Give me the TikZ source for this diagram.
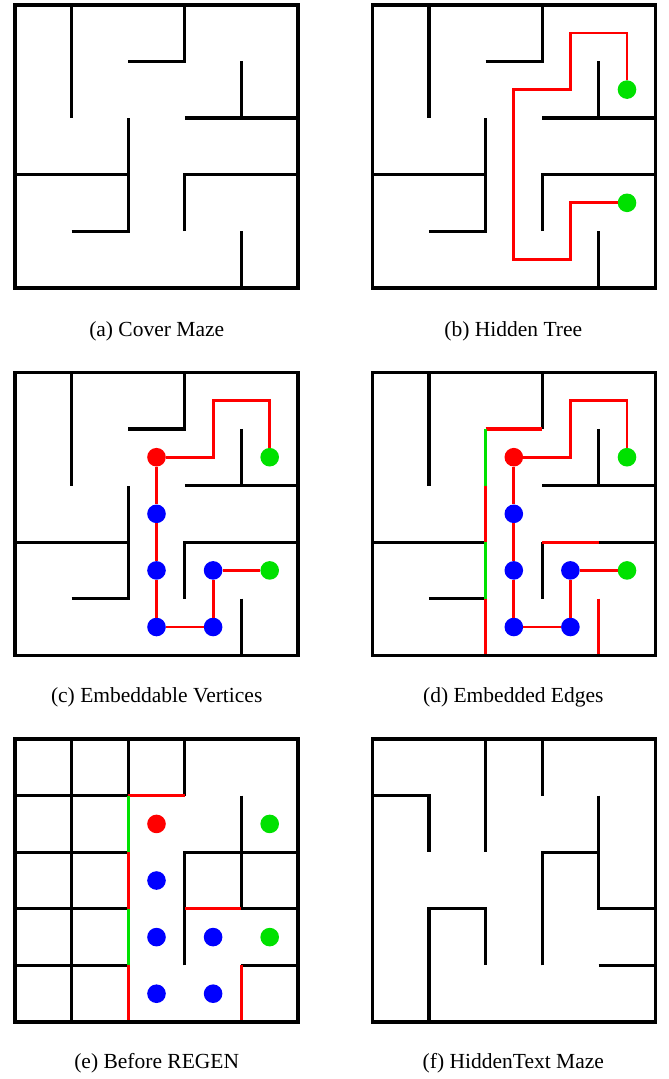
\documentclass[tikz,border=0pt]{standalone}
\usepackage{fontspec}
\setmainfont{Liberation Serif}
\definecolor{wred}{RGB}{255,0,0}
\definecolor{wgreen}{RGB}{0,225,0}
\definecolor{wblue}{RGB}{0,0,255}
\tikzset{
  wall/.style={line width=3.2pt, black},
  border/.style={line width=3.6pt, black},
  rwall/.style={line width=3.2pt, wred},
  gwall/.style={line width=3.2pt, wgreen},
  tpath/.style={line width=2.8pt, wred},
  dot/.style={circle, inner sep=0pt, minimum size=18.6pt},
  rdot/.style={dot, fill=wred},
  gdot/.style={dot, fill=wgreen},
  bdot/.style={dot, fill=wblue},
  captext/.style={font=\fontsize{21.5}{26}\selectfont, anchor=base, inner sep=0pt},
  panel/.style={x=56.6pt, y=-56.6pt}
}
\newcommand{\mazeAwalls}{%
  \draw[wall] (1,0)--(1,2);
  \draw[wall] (2,1)--(3,1)--(3,0);
  \draw[wall] (4,1)--(4,2);
  \draw[wall] (3,2)--(5,2);
  \draw[wall] (0,3)--(2,3);
  \draw[wall] (1,4)--(2,4)--(2,2);
  \draw[wall] (3,4)--(3,3)--(5,3);
  \draw[wall] (4,4)--(4,5);
  \draw[border] (0,0) rectangle (5,5);
}
\newcommand{\treedots}[1]{%
  \node[rdot] (#1r) at (2.5,1.5) {};
  \node[bdot] (#1b1) at (2.5,2.5) {};
  \node[bdot] (#1b2) at (2.5,3.5) {};
  \node[bdot] (#1b3) at (2.5,4.5) {};
  \node[bdot] (#1b4) at (3.5,4.5) {};
  \node[bdot] (#1b5) at (3.5,3.5) {};
  \node[gdot] (#1g1) at (4.5,1.5) {};
  \node[gdot] (#1g2) at (4.5,3.5) {};
}
\newcommand{\treeedges}[1]{%
  \draw[tpath] (#1r) -- (3.5,1.5) -- (3.5,0.5) -- (4.5,0.5) -- (#1g1);
  \draw[tpath] (#1r) -- (#1b1);
  \draw[tpath] (#1b1) -- (#1b2);
  \draw[tpath] (#1b2) -- (#1b3);
  \draw[tpath] (#1b3) -- (#1b4);
  \draw[tpath] (#1b4) -- (#1b5);
  \draw[tpath] (#1b5) -- (#1g2);
}
\begin{document}
\begin{tikzpicture}
\useasboundingbox (0pt,0pt) rectangle (669pt,-1079pt);

% (a) Cover Maze
\begin{scope}[shift={(15pt,-4.7pt)}, panel]
  \mazeAwalls
\end{scope}
\node[captext] (capA) at (156.7pt,-336.5pt) {(a) Cover Maze};

% (b) Hidden Tree
\begin{scope}[shift={(372.3pt,-4.7pt)}, panel]
  \mazeAwalls
  \node[gdot] (bg1) at (4.5,1.5) {};
  \node[gdot] (bg2) at (4.5,3.5) {};
  \draw[tpath] (bg1) -- (4.5,0.5) -- (3.5,0.5) -- (3.5,1.5) -- (2.5,1.5)
     -- (2.5,4.5) -- (3.5,4.5) -- (3.5,3.5) -- (bg2);
\end{scope}
\node[captext] (capB) at (513.3pt,-336.5pt) {(b) Hidden Tree};

% (c) Embeddable Vertices
\begin{scope}[shift={(15pt,-372.3pt)}, panel]
  \mazeAwalls
  \treedots{c}
  \treeedges{c}
\end{scope}
\node[captext] (capC) at (156.7pt,-702.5pt) {(c) Embeddable Vertices};

% (d) Embedded Edges
\begin{scope}[shift={(372.3pt,-372.3pt)}, panel]
  \draw[wall] (1,0)--(1,2);
  \draw[wall] (3,1)--(3,0);
  \draw[wall] (4,1)--(4,2);
  \draw[wall] (3,2)--(5,2);
  \draw[wall] (0,3)--(2,3);
  \draw[wall] (1,4)--(2,4);
  \draw[wall] (3,4)--(3,3);
  \draw[wall] (4,3)--(5,3);
  \draw[rwall] (2,1)--(3,1);
  \draw[rwall] (2,2)--(2,3);
  \draw[rwall] (2,4)--(2,5);
  \draw[rwall] (3,3)--(4,3);
  \draw[rwall] (4,4)--(4,5);
  \draw[gwall] (2,1)--(2,2);
  \draw[gwall] (2,3)--(2,4);
  \draw[border] (0,0) rectangle (5,5);
  \treedots{d}
  \treeedges{d}
\end{scope}
\node[captext] (capD) at (513.3pt,-702.5pt) {(d) Embedded Edges};

% (e) Before REGEN
\begin{scope}[shift={(15pt,-739pt)}, panel]
  \draw[wall] (1,0)--(1,5);
  \draw[wall] (0,1)--(2,1);
  \draw[wall] (0,2)--(2,2);
  \draw[wall] (0,3)--(2,3);
  \draw[wall] (0,4)--(2,4);
  \draw[wall] (2,0)--(2,1);
  \draw[wall] (3,0)--(3,1);
  \draw[wall] (3,4)--(3,2)--(5,2);
  \draw[wall] (4,1)--(4,3)--(5,3);
  \draw[wall] (4,4)--(5,4);
  \draw[rwall] (2,1)--(3,1);
  \draw[rwall] (2,2)--(2,3);
  \draw[rwall] (2,4)--(2,5);
  \draw[rwall] (3,3)--(4,3);
  \draw[rwall] (4,4)--(4,5);
  \draw[gwall] (2,1)--(2,2);
  \draw[gwall] (2,3)--(2,4);
  \draw[border] (0,0) rectangle (5,5);
  \treedots{e}
\end{scope}
\node[captext] (capE) at (156.7pt,-1068pt) {(e) Before REGEN};

% (f) HiddenText Maze
\begin{scope}[shift={(372.3pt,-739pt)}, panel]
  \draw[wall] (0,1)--(1,1)--(1,2);
  \draw[wall] (2,0)--(2,2);
  \draw[wall] (3,0)--(3,1);
  \draw[wall] (4,1)--(4,3)--(5,3);
  \draw[wall] (3,4)--(3,2)--(4,2);
  \draw[wall] (1,5)--(1,3)--(2,3)--(2,4);
  \draw[wall] (4,4)--(5,4);
  \draw[border] (0,0) rectangle (5,5);
\end{scope}
\node[captext] (capF) at (513.3pt,-1068pt) {(f) HiddenText Maze};
\end{tikzpicture}
\end{document}
